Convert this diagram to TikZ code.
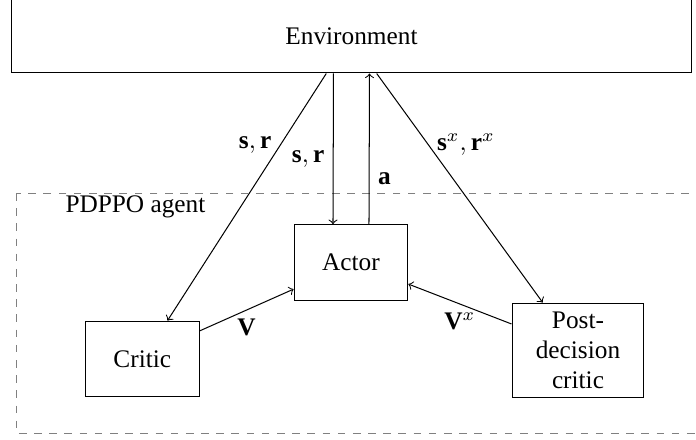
\documentclass[tikz,border=0pt]{standalone}
\usepackage{amsmath}
\usepackage{fontspec}
\setmainfont{LiberationSerif}[Extension=.ttf, UprightFont=*-Regular, BoldFont=*-Bold, ItalicFont=*-Italic, BoldItalicFont=*-BoldItalic]
\usetikzlibrary{positioning}

\begin{document}
\begin{tikzpicture}[>=to, box node/.style={rectangle, draw, minimum width=1.58cm, minimum height=1.05cm}]
        \useasboundingbox (0,0) rectangle (9.667,-6.111);

        \node[draw, minimum width=9.458cm, minimum height=1.014cm, inner sep=0] (env) at (4.882,-0.507) {Environment};
        \draw[dashed, gray] (0.236,-2.681) rectangle (10.2,-6.028);
        \node[anchor=base west, inner sep=0] (agent) at (0.903,-2.958) {PDPPO agent};

        \node[box node] (actor) at (4.875,-3.646) {Actor};
        \node[box node] (critic) at (1.976,-4.986) {Critic};
        \node[box node, minimum width=1.833cm, minimum height=1.31cm, align=center] (post) at (8.028,-4.865) {Post-\\decision\\critic};

        % Edges
        \draw[->] ([xshift=-0.35cm]env.south) -- node[pos=0.29, left] {$\mathbf{s}, \mathbf{r}$} ([xshift=0.35cm]critic.north);
        \draw[->] ([xshift=-0.25cm]env.south) -- node[pos=0.57, left] {$\mathbf{s}, \mathbf{r}$} ([xshift=-0.25cm]actor.north);
        \draw[->] ([xshift=0.25cm]actor.north) -- node[pos=0.3, right] {$\mathbf{a}$} ([xshift=0.25cm]env.south);
        \draw[->] ([xshift=0.35cm]env.south) -- node[pos=0.31, right] {$\mathbf{s}^x, \mathbf{r}^x$} ([xshift=-0.49cm]post.north);

        \draw[->] ([yshift=0.39cm]critic.east) -- node[pos=0.5, below] {$\mathbf{V}$} ([yshift=-0.37cm]actor.west);
        \draw[->] ([yshift=0.365cm]post.west) -- node[pos=0.5, below] {$\mathbf{V}^x$} ([yshift=-0.3cm]actor.east);
\end{tikzpicture}
\end{document}
